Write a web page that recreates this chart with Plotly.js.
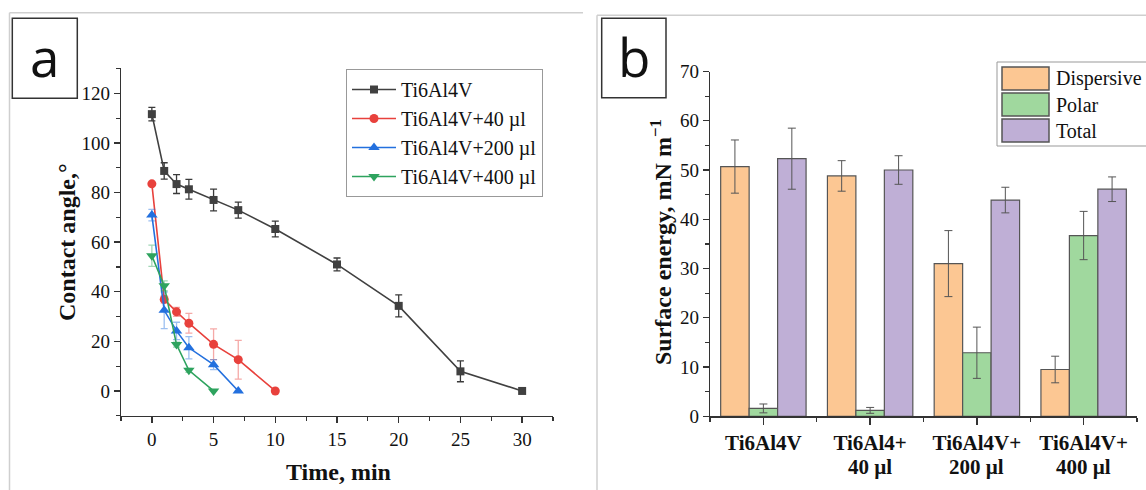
<!DOCTYPE html>
<html>
<head>
<meta charset="utf-8">
<script src="https://cdn.plot.ly/plotly-3.0.1.min.js"></script>
<style>
  html, body { margin: 0; padding: 0; background: #fff; }
  #chart { width: 1146px; height: 490px; }
</style>
</head>
<body>
<div id="chart"></div>
<script>
// ---- Panel a: water contact angle over time ----
const timeBase = [0, 1, 2, 3, 5, 7, 10, 15, 20, 25, 30];
const angleBase = [111.6, 88.7, 83.4, 81.3, 77.0, 72.9, 65.3, 51.0, 34.3, 7.9, 0];
const angleBaseErr = [2.7, 3.3, 3.8, 4.0, 4.4, 3.2, 3.2, 2.6, 4.4, 4.2, 0];

const time40 = [0, 1, 2, 3, 5, 7, 10];
const angle40 = [83.5, 36.9, 31.9, 27.3, 18.8, 12.6, 0];
const angle40Err = [0.6, 1.5, 1.8, 4.0, 6.2, 7.8, 0];

const time200 = [0, 1, 2, 3, 5, 7];
const angle200 = [70.9, 32.5, 24.2, 17.4, 10.6, 0];
const angle200Err = [2.3, 7.4, 3.5, 4.5, 2.0, 0];

const time400 = [0, 1, 2, 3, 5];
const angle400 = [54.5, 42.4, 18.7, 8.3, 0];
const angle400Err = [4.3, 2.0, 1.0, 0.8, 0];

const seriesNames = ['Ti6Al4V', 'Ti6Al4V+40 µl', 'Ti6Al4V+200 µl', 'Ti6Al4V+400 µl'];

// ---- Panel b: surface energy components ----
const samples = ['Ti6Al4V', 'Ti6Al4+', 'Ti6Al4V+', 'Ti6Al4V+'];
const samplesLine2 = ['', '40 µl', '200 µl', '400 µl'];
const componentNames = ['Dispersive', 'Polar', 'Total'];
const dispersive = [50.7, 48.8, 31.0, 9.5];
const dispersiveErr = [5.4, 3.1, 6.7, 2.7];
const polar = [1.6, 1.2, 12.9, 36.7];
const polarErr = [0.9, 0.6, 5.2, 4.9];
const total = [52.3, 50.0, 43.9, 46.1];
const totalErr = [6.2, 2.9, 2.6, 2.5];

// ---- styling ----
const W = 1146, H = 490;
const px = v => v / W;          // pixel -> paper x
const py = v => 1 - v / H;      // pixel -> paper y
const SERIF = 'Liberation Serif';
const AXIS = '#333';
const lineColors = ['#404040', '#E8413C', '#2370DE', '#2EA35E'];
const errColors = ['#3a3a3a', 'rgba(232,65,60,0.45)', 'rgba(35,112,222,0.45)', 'rgba(46,163,94,0.45)'];
const symbols = ['square', 'circle', 'triangle-up', 'triangle-down'];
const symbolSizes = [8, 9, 10, 10];
const componentColors = ['#FCC793', '#A0D89E', '#BFAFD6'];

const lineSets = [
  [timeBase, angleBase, angleBaseErr],
  [time40, angle40, angle40Err],
  [time200, angle200, angle200Err],
  [time400, angle400, angle400Err]
];

const traces = lineSets.map(([t, a, e], i) => ({
  type: 'scatter',
  mode: 'lines+markers',
  name: seriesNames[i],
  x: t, y: a,
  xaxis: 'x', yaxis: 'y',
  line: { color: lineColors[i], width: 1.6 },
  marker: { symbol: symbols[i], size: symbolSizes[i], color: lineColors[i] },
  error_y: { type: 'data', array: e, visible: true, color: errColors[i], thickness: 1.3, width: 3.5 },
  cliponaxis: false
}));

const barSets = [[dispersive, dispersiveErr], [polar, polarErr], [total, totalErr]];
const catIndex = samples.map((_, i) => i);
barSets.forEach(([vals, errs], i) => {
  traces.push({
    type: 'bar',
    name: componentNames[i],
    x: catIndex, y: vals,
    xaxis: 'x2', yaxis: 'y2',
    showlegend: false,
    marker: { color: componentColors[i], line: { color: '#555', width: 1.2 } },
    error_y: { type: 'data', array: errs, visible: true, color: '#555', thickness: 1, width: 4 }
  });
});

const axisBase = {
  showline: true, linecolor: AXIS, linewidth: 1.3,
  ticks: 'outside', ticklen: 6, tickwidth: 1.3, tickcolor: AXIS,
  showgrid: false, zeroline: false,
  tickfont: { family: SERIF, size: 19, color: '#111' }
};

const shapes = [];
const annotations = [];

// panel frames
shapes.push(
  { type: 'line', xref: 'paper', yref: 'paper', x0: px(9.5), x1: px(583), y0: py(12.7), y1: py(12.7), line: { color: '#cfcfcf', width: 1.5 } },
  { type: 'line', xref: 'paper', yref: 'paper', x0: px(9.5), x1: px(9.5), y0: py(12.7), y1: py(492), line: { color: '#cfcfcf', width: 1.5 } },
  { type: 'line', xref: 'paper', yref: 'paper', x0: px(597), x1: px(1148), y0: py(15.3), y1: py(15.3), line: { color: '#cfcfcf', width: 1.5 } },
  { type: 'line', xref: 'paper', yref: 'paper', x0: px(597), x1: px(597), y0: py(15.3), y1: py(492), line: { color: '#cfcfcf', width: 1.5 } }
);

// panel letter boxes
shapes.push(
  { type: 'rect', xref: 'paper', yref: 'paper', x0: px(12.3), x1: px(77.3), y0: py(98.3), y1: py(18.3), line: { color: '#333', width: 1.5 }, fillcolor: '#fff' },
  { type: 'rect', xref: 'paper', yref: 'paper', x0: px(601.7), x1: px(666), y0: py(97.7), y1: py(18.3), line: { color: '#333', width: 1.5 }, fillcolor: '#fff' }
);
annotations.push(
  { text: 'a', xref: 'paper', yref: 'paper', x: px(44.8), y: py(56), xanchor: 'center', yanchor: 'middle', showarrow: false, font: { family: 'Open Sans', size: 53, color: '#111' } },
  { text: 'b', xref: 'paper', yref: 'paper', x: px(634), y: py(57), xanchor: 'center', yanchor: 'middle', showarrow: false, font: { family: 'Open Sans', size: 53, color: '#111' } }
);

// axis titles
annotations.push(
  { text: '<b>Contact angle,°</b>', xref: 'paper', yref: 'paper', x: px(67), y: py(242), textangle: -90, xanchor: 'center', yanchor: 'middle', showarrow: false, font: { family: SERIF, size: 24, color: '#111' } },
  { text: '<b>Time, min</b>', xref: 'paper', yref: 'paper', x: px(338), y: py(472), xanchor: 'center', yanchor: 'middle', showarrow: false, font: { family: SERIF, size: 24, color: '#111' } },
  { text: '<b>Surface energy, mN m<sup>−1</sup></b>', xref: 'paper', yref: 'paper', x: px(661), y: py(242), textangle: -90, xanchor: 'center', yanchor: 'middle', showarrow: false, font: { family: SERIF, size: 24, color: '#111' } }
);

// second line of the category labels
samplesLine2.forEach((s, i) => {
  if (!s) return;
  annotations.push({ text: '<b>' + s + '</b>', xref: 'x2', yref: 'paper', x: catIndex[i], y: py(467), xanchor: 'center', yanchor: 'middle', showarrow: false, font: { family: SERIF, size: 21, color: '#111' } });
});

// legend for the bar panel
shapes.push({ type: 'rect', xref: 'paper', yref: 'paper', x0: px(997), x1: px(1152), y0: py(146), y1: py(62), line: { color: '#999', width: 1 }, fillcolor: '#fff' });
componentNames.forEach((n, i) => {
  const top = 67 + 26 * i;
  shapes.push({ type: 'rect', xref: 'paper', yref: 'paper', x0: px(1002), x1: px(1049), y0: py(top + 23), y1: py(top), line: { color: '#555', width: 1.5 }, fillcolor: componentColors[i] });
  annotations.push({ text: n, xref: 'paper', yref: 'paper', x: px(1054), y: py(top + 11.5), xanchor: 'left', yanchor: 'middle', showarrow: false, font: { family: SERIF, size: 20, color: '#111' } });
});

const layout = {
  width: W, height: H,
  margin: { l: 0, r: 0, t: 0, b: 0 },
  paper_bgcolor: '#fff', plot_bgcolor: 'rgba(0,0,0,0)',
  font: { family: SERIF, color: '#111' },
  barmode: 'group', bargap: 0.2, bargroupgap: 0,
  showlegend: true,
  legend: {
    x: px(346), y: py(69), xanchor: 'left', yanchor: 'top',
    bgcolor: '#fff', bordercolor: '#999', borderwidth: 1,
    font: { family: SERIF, size: 20, color: '#111' },
    itemwidth: 44, tracegroupgap: 0
  },
  xaxis: Object.assign({}, axisBase, {
    domain: [px(121), px(553)], range: [-2.5, 32.5], anchor: 'y',
    tick0: 0, dtick: 5,
    minor: { ticks: 'outside', ticklen: 3.5, tickwidth: 1.2, tickcolor: AXIS, tick0: 0, dtick: 2.5 }
  }),
  yaxis: Object.assign({}, axisBase, {
    domain: [py(416), py(68)], range: [-10.1, 130.2], anchor: 'x',
    tick0: 0, dtick: 20,
    minor: { ticks: 'outside', ticklen: 3.5, tickwidth: 1.2, tickcolor: AXIS, tick0: 0, dtick: 10 }
  }),
  xaxis2: Object.assign({}, axisBase, {
    domain: [px(710), px(1137)], range: [-0.5, 3.5], anchor: 'y2',
    tickmode: 'array', tickvals: catIndex, ticktext: samples, ticklen: 7,
    tickfont: { family: SERIF, size: 21, color: '#111', weight: 'bold' },
    minor: { ticks: 'outside', ticklen: 4, tickwidth: 1.2, tickcolor: AXIS, tick0: 0.5, dtick: 1 }
  }),
  yaxis2: Object.assign({}, axisBase, {
    domain: [py(416.3), py(71.5)], range: [0, 70], anchor: 'x2',
    tick0: 0, dtick: 10,
    minor: { ticks: 'outside', ticklen: 3.5, tickwidth: 1.2, tickcolor: AXIS, tick0: 0, dtick: 5 }
  }),
  shapes: shapes,
  annotations: annotations
};

Plotly.newPlot('chart', traces, layout, { staticPlot: true, displayModeBar: false });
</script>
</body>
</html>
